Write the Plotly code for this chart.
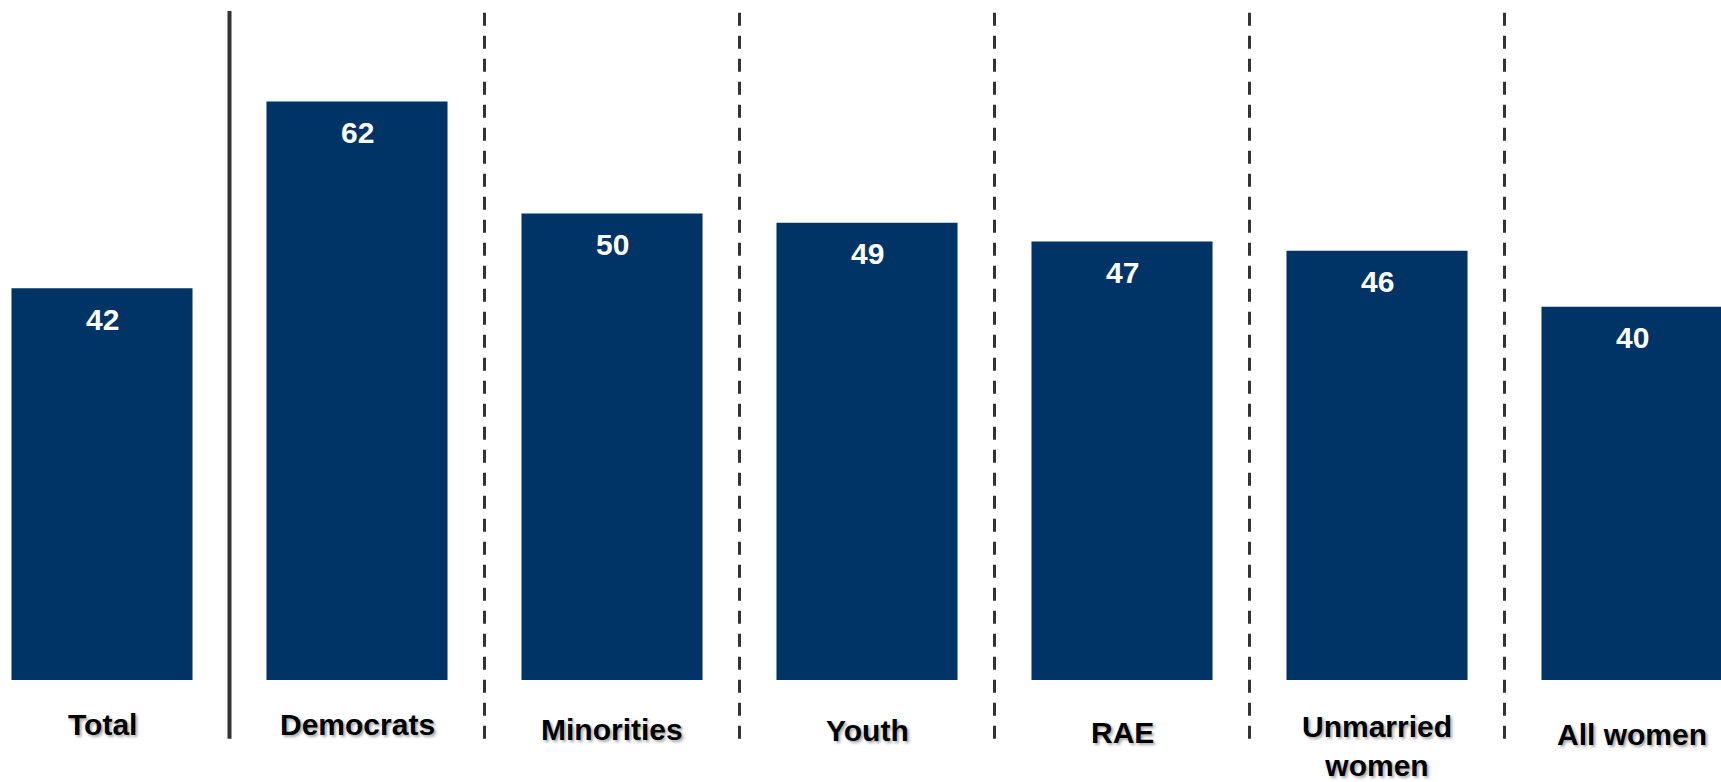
import plotly.graph_objects as go

# Share of each group (percent)
categories = ["Total", "Democrats", "Minorities", "Youth", "RAE", "Unmarried<br>women", "All women"]
values = [42, 62, 50, 49, 47, 46, 40]

BAR_COLOR = "#003366"
LINE_COLOR = "#333333"
FONT = "Arial, 'Liberation Sans', sans-serif"

# vertical drop (px) of each category label below the baseline
label_drop = [44, 44, 49, 50, 52, 66, 54]

x = list(range(len(categories)))

fig = go.Figure(
    go.Bar(
        x=x,
        y=values,
        width=0.71,
        marker=dict(color=BAR_COLOR, line=dict(width=0)),
        hoverinfo="skip",
    )
)

annotations = []
for i, v in enumerate(values):
    # value printed inside the top of each bar
    annotations.append(dict(
        x=i, y=v, xref="x", yref="y", text=str(v), showarrow=False,
        yanchor="middle", xanchor="center", yshift=-31,
        font=dict(family=FONT, size=30, color="white", weight="bold"),
    ))
    # category name beneath each bar
    annotations.append(dict(
        x=i, y=0, xref="x", yref="y", text=categories[i], showarrow=False,
        yanchor="middle", xanchor="center", yshift=-label_drop[i],
        font=dict(family=FONT, size=30, color="black", weight="bold",
                  shadow="2px 2px 3px rgba(0,0,0,0.35)"),
    ))

shapes = []
for i in range(len(categories) - 1):
    shapes.append(dict(
        type="line", xref="x", yref="y",
        x0=i + 0.5, x1=i + 0.5, y0=-6.3, y1=71.7,
        line=dict(color=LINE_COLOR, width=4 if i == 0 else 3,
                  dash="solid" if i == 0 else "13px,10px"),
        layer="above",
    ))

fig.update_layout(
    width=1721,
    height=782,
    margin=dict(l=0, r=0, t=0, b=0),
    paper_bgcolor="white",
    plot_bgcolor="white",
    showlegend=False,
    annotations=annotations,
    shapes=shapes,
    xaxis=dict(range=[-0.4, 6.349], visible=False, fixedrange=True),
    yaxis=dict(range=[-10.93, 72.88], visible=False, fixedrange=True),
)

fig.write_html("out.html", config={"displayModeBar": False})
